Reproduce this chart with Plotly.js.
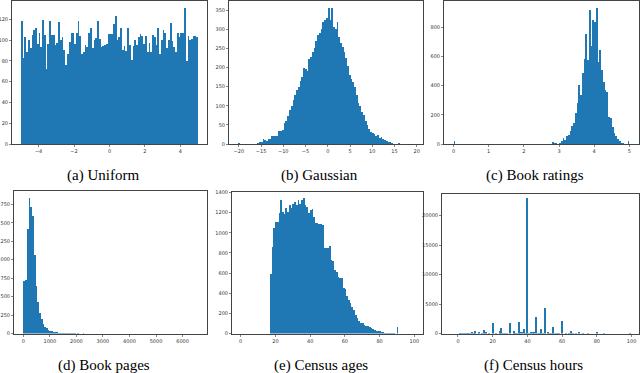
<!DOCTYPE html>
<html>
<head>
<meta charset="utf-8">
<script src="https://cdn.plot.ly/plotly-3.0.1.min.js"></script>
<style>
  body { margin: 0; background: #fff; }
  #figure { width: 640px; height: 373px; }
</style>
</head>
<body>
<div id="figure"></div>
<script>
// (a) uniform, 100 bins on [-5, 5]
const uniformStart = -4.95;
const uniformStep = 0.1;
const uniformCounts = [
    118, 83, 103, 88, 100, 92, 105, 110, 112, 96,
    107, 93, 119, 105, 72, 96, 118, 105, 105, 95,
    97, 117, 100, 103, 90, 76, 87, 98, 107, 107,
    96, 107, 118, 104, 87, 88, 95, 93, 107, 112,
    92, 100, 102, 118, 101, 93, 94, 95, 96, 106,
    106, 106, 115, 123, 100, 103, 112, 90, 94, 89,
    112, 95, 81, 94, 100, 95, 103, 106, 104, 96,
    104, 88, 97, 88, 105, 103, 95, 112, 87, 100,
    110, 107, 92, 100, 116, 99, 93, 88, 107, 103,
    107, 107, 131, 80, 104, 100, 101, 104, 104, 103
];

// (b) gaussian, 100 bins
const gaussStart = -20.0;
const gaussStep = 0.396;
const gaussCounts = [
    3, 0, 0, 0, 0, 0, 0, 0, 0, 0,
    1, 2, 4, 6, 12, 10, 8, 12, 14, 20,
    21, 20, 21, 35, 35, 36, 55, 60, 72, 88,
    100, 115, 128, 140, 148, 165, 175, 200, 197, 190,
    222, 228, 240, 250, 270, 285, 290, 300, 318, 325,
    330, 355, 325, 356, 305, 300, 320, 280, 265, 255,
    240, 225, 205, 180, 170, 162, 150, 128, 108, 100,
    85, 75, 60, 50, 40, 32, 30, 25, 22, 24,
    17, 18, 12, 10, 8, 5, 6, 3, 1, 1,
    0, 2, 0, 1, 0, 0, 0, 0, 0, 0
];

// (c) book ratings, 100 bins on [0, 5]
const ratingStart = 0.025;
const ratingStep = 0.05;
const ratingCounts = [
    23, 0, 0, 0, 0, 0, 0, 0, 0, 0,
    0, 0, 0, 0, 0, 0, 0, 0, 0, 0,
    0, 0, 0, 0, 0, 0, 0, 0, 0, 0,
    0, 0, 0, 0, 0, 0, 0, 0, 0, 0,
    2, 0, 0, 0, 0, 0, 0, 0, 0, 0,
    0, 0, 3, 0, 0, 1, 11, 5, 4, 3,
    7, 18, 41, 30, 52, 63, 90, 120, 147, 215,
    279, 404, 336, 488, 585, 755, 578, 914, 669, 846,
    834, 932, 562, 642, 506, 426, 370, 358, 188, 177,
    113, 75, 57, 34, 18, 10, 5, 3, 2, 22
];

// (d) book pages, 100 bins
const pageStart = 32.9;
const pageStep = 65.8;
const pageCounts = [
    712, 730, 1421, 1840, 1713, 1587, 1060, 640, 420, 280,
    190, 125, 90, 68, 48, 35, 28, 22, 18, 15,
    12, 10, 8, 6, 5, 3, 2, 3, 1, 1,
    0, 1, 0, 0, 1, 0, 0, 0, 0, 0,
    0, 0, 0, 0, 0, 0, 0, 0, 0, 0,
    0, 0, 0, 0, 0, 0, 0, 0, 0, 0,
    0, 0, 0, 0, 0, 0, 0, 0, 0, 0,
    0, 0, 0, 0, 0, 0, 0, 0, 0, 0,
    0, 0, 0, 0, 0, 0, 0, 0, 0, 0,
    0, 0, 0, 0, 0, 0, 0, 0, 0, 0
];

// (e) census ages, one bin per year from 17 to 90
const ageStart = 17.3;
const ageStep = 1;
const ageCounts = [
    588, 855, 1043, 1103, 1110, 1192, 1324, 1208, 1185, 1242,
    1208, 1274, 1250, 1290, 1307, 1274, 1330, 1290, 1330, 1350,
    1274, 1257, 1192, 1225, 1232, 1158, 1093, 1093, 1087, 1083,
    1076, 845, 845, 845, 868, 730, 715, 630, 615, 558,
    550, 550, 450, 440, 373, 334, 300, 268, 235, 185,
    152, 126, 109, 103, 86, 76, 76, 60, 53, 43,
    30, 27, 20, 20, 10, 13, 4, 3, 4, 1,
    2, 3, 0, 63
];

// (f) census hours per week
const hourValues = [
    1, 2, 3, 4, 5, 6, 7, 8, 9, 10,
    12, 14, 15, 16, 18, 20, 22, 24, 25, 26,
    27, 28, 30, 32, 33, 34, 35, 36, 37, 38,
    39, 40, 41, 42, 43, 44, 45, 46, 47, 48,
    49, 50, 52, 53, 54, 55, 56, 57, 58, 60,
    62, 64, 65, 66, 68, 70, 72, 75, 80, 84,
    99
];
const hourCounts = [
    30, 55, 60, 85, 95, 90, 45, 220, 30, 420,
    260, 55, 620, 300, 110, 1840, 70, 380, 960, 50,
    45, 130, 1720, 420, 60, 45, 2030, 340, 230, 760,
    60, 22900, 50, 340, 230, 310, 2740, 130, 80, 780,
    40, 4250, 215, 40, 30, 1070, 150, 25, 40, 2180,
    30, 25, 380, 25, 20, 320, 100, 110, 190, 90,
    110
];

const captions = ['(a) Uniform', '(b) Gaussian', '(c) Book ratings',
                  '(d) Book pages', '(e) Census ages', '(f) Census hours'];

const barColor = '#1f77b4';
const W = 640, H = 373;

// plot frames in pixels: [left, right, top, bottom]
const frames = [
    [12, 207, 1, 144],
    [229, 423, 1, 144],
    [444, 638.5, 1, 144],
    [14, 207, 191, 333.5],
    [232, 423, 191.5, 333.5],
    [442, 638.5, 194, 333.5],
];

function makeAxis(dom, range, dtick, anchor) {
    return {
        domain: dom,
        range: range,
        anchor: anchor,
        tickmode: 'linear',
        tick0: 0,
        dtick: dtick,
        tickformat: 'd',
        ticks: 'outside',
        ticklen: 2,
        tickwidth: 0.6,
        tickcolor: '#333',
        tickfont: { family: 'DejaVu Sans', size: 5, color: '#333' },
        showgrid: false,
        zeroline: false,
        showline: true,
        linecolor: '#444',
        linewidth: 1,
        mirror: true,
        fixedrange: true,
    };
}

function histTrace(i, extra) {
    const n = i === 0 ? '' : String(i + 1);
    return Object.assign({
        type: 'bar',
        xaxis: 'x' + n,
        yaxis: 'y' + n,
        marker: { color: barColor, line: { width: 0 } },
        hoverinfo: 'skip',
    }, extra);
}

const traces = [
    histTrace(0, { y: uniformCounts, x0: uniformStart, dx: uniformStep, width: uniformStep }),
    histTrace(1, { y: gaussCounts, x0: gaussStart, dx: gaussStep, width: gaussStep }),
    histTrace(2, { y: ratingCounts, x0: ratingStart, dx: ratingStep, width: ratingStep }),
    histTrace(3, { y: pageCounts, x0: pageStart, dx: pageStep, width: pageStep }),
    histTrace(4, { y: ageCounts, x0: ageStart, dx: ageStep, width: ageStep }),
    histTrace(5, { x: hourValues, y: hourCounts, width: 1.15 }),
];

const xRanges = [[-5.5, 5.5], [-22.2, 21.4], [-0.27, 5.26], [-350, 6920], [-5, 105], [-9.2, 104]];
const xTicks = [2, 5, 1, 1000, 20, 20];
const yRanges = [[0, 137.5], [0, 374], [0, 979], [0, 1930], [0, 1410], [0, 23660]];
const yTicks = [20, 50, 200, 250, 200, 5000];

let layout = {
    width: W,
    height: H,
    margin: { l: 0, r: 0, t: 0, b: 0 },
    paper_bgcolor: '#fff',
    plot_bgcolor: '#fff',
    showlegend: false,
    bargap: 0,
    annotations: [],
};

frames.forEach((f, i) => {
    const n = i === 0 ? '' : String(i + 1);
    const xd = [f[0] / W, f[1] / W];
    const yd = [1 - f[3] / H, 1 - f[2] / H];
    layout['xaxis' + n] = makeAxis(xd, xRanges[i], xTicks[i], 'y' + n);
    layout['yaxis' + n] = makeAxis(yd, yRanges[i], yTicks[i], 'x' + n);
    // caption under each panel
    layout.annotations.push({
        text: captions[i],
        xref: 'paper', yref: 'paper',
        x: (f[0] + f[1]) / 2 / W - 0.01,
        y: 1 - (i < 3 ? 175 : 365) / H,
        xanchor: 'center', yanchor: 'middle',
        showarrow: false,
        font: { family: 'Liberation Serif', size: 15, color: '#000' },
    });
});

Plotly.newPlot('figure', traces, layout, { displayModeBar: false, staticPlot: true });
</script>
</body>
</html>
